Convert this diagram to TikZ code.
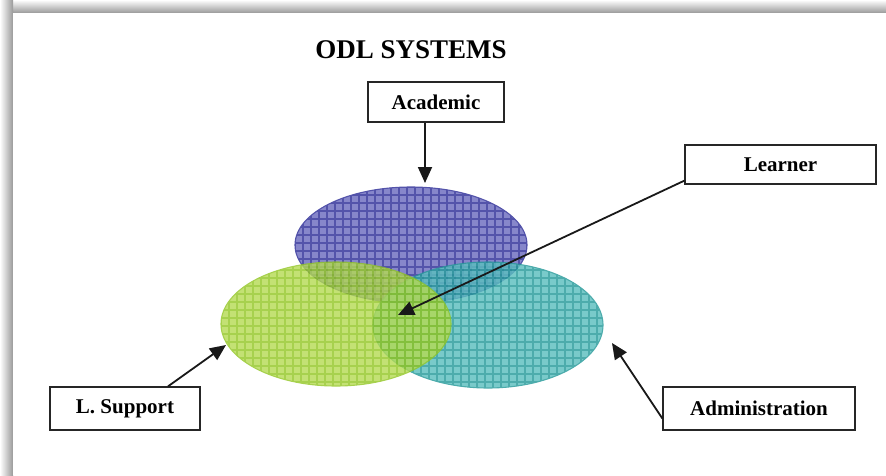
\documentclass[tikz,border=0pt]{standalone}
\usepackage{fontspec}
\setmainfont{Liberation Serif}
\usetikzlibrary{arrows.meta}

\definecolor{acadfill}{HTML}{8080C8}
\definecolor{acadline}{HTML}{4A4AA6}
\definecolor{suppfill}{HTML}{B4DA52}
\definecolor{suppline}{HTML}{92C622}
\definecolor{admfill}{HTML}{5CBFBF}
\definecolor{admline}{HTML}{269A9A}

\tikzset{
  label box/.style={draw=black!85, line width=1.3pt, fill=white, inner sep=0pt,
    font=\fontsize{21}{24}\selectfont\bfseries},
  pointer/.style={draw=black!90, line width=1.8pt,
    -{Triangle[length=16pt,width=14pt]}},
}

\begin{document}
\begin{tikzpicture}[x=1pt,y=-1pt]
  \useasboundingbox (0,0) rectangle (886,475);

  % page shadow along the top and left edges
  \shade[top color=white, bottom color=black!40] (0,0) rectangle (886,13);
  \shade[left color=white, right color=black!40] (0,0) rectangle (13,475);
  \fill[white] (13,13) rectangle (886,475);

  % title
  \node[font=\fontsize{27}{30}\selectfont\bfseries] (title) at (411,50) {ODL SYSTEMS};

  % the three overlapping systems: Academic, Administration, L. Support
  \foreach \cx/\cy/\rx/\ry/\fc/\lc/\op in {411/245/116/58/acadfill/acadline/0.95,
                                       488/325/115/63/admfill/admline/0.82,
                                       336/324/115/62/suppfill/suppline/0.8}{
    \begin{scope}[transparency group, opacity=\op]
      \fill[\fc] (\cx,\cy) ellipse [x radius=\rx, y radius=\ry];
      \begin{scope}
        \clip (\cx,\cy) ellipse [x radius=\rx, y radius=\ry];
        \foreach \g in {0,8,...,250}{
          \draw[\lc, line width=1.6pt]
            (\cx-\rx+\g,\cy-\ry) -- (\cx-\rx+\g,\cy+\ry);
          \draw[\lc, line width=1.6pt]
            (\cx-\rx,\cy-\ry+\g) -- (\cx+\rx,\cy-\ry+\g);
        }
      \end{scope}
      \draw[\lc, line width=1.1pt] (\cx,\cy) ellipse [x radius=\rx, y radius=\ry];
    \end{scope}
  }
  \coordinate (acadTop) at (425,183);
  \coordinate (core) at (398,315);
  \coordinate (suppEdge) at (226,345);
  \coordinate (admEdge) at (612,343);

  % labels
  \node[label box, minimum width=136pt, minimum height=40pt] (academic) at (436,102) {Academic};
  \node[label box, minimum width=191pt, minimum height=39pt] (learner) at (780.5,164.5) {Learner};
  \node[label box, minimum width=150pt, minimum height=43pt] (support) at (125,408.5) {L. Support};
  \node[label box, minimum width=192pt, minimum height=43pt] (admin) at (759,408.5) {Administration};

  % pointers
  \draw[pointer] (academic.south -| acadTop) -- (acadTop);
  \draw[pointer] ([yshift=4pt]learner.south west) -- (core);
  \draw[pointer] ([xshift=43pt]support.north) -- (suppEdge);
  \draw[pointer] ([yshift=-10pt]admin.west) -- (admEdge);
\end{tikzpicture}
\end{document}
